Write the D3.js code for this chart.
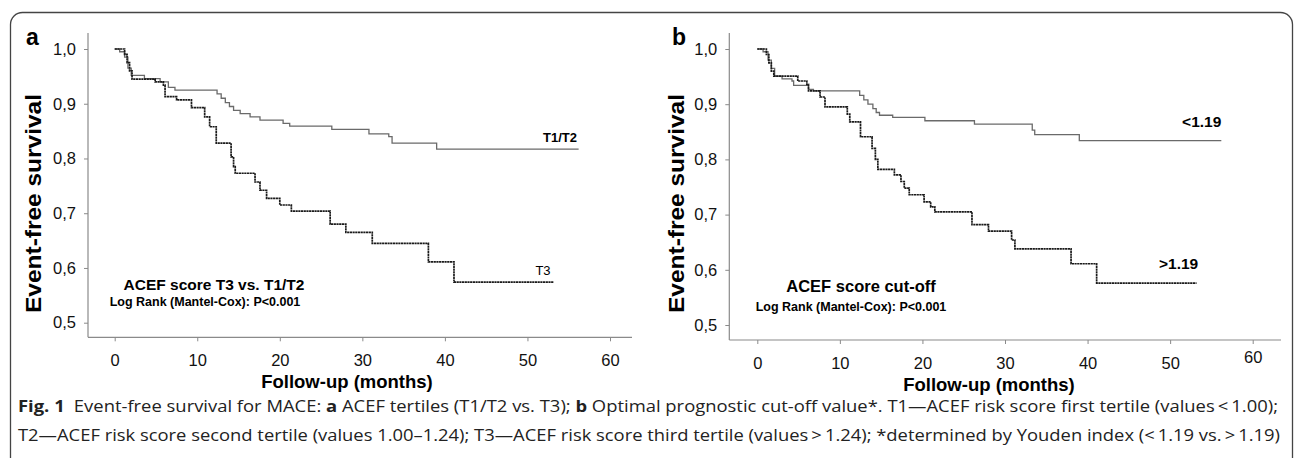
<!DOCTYPE html>
<html>
<head>
<meta charset="utf-8">
<script src="https://cdn.jsdelivr.net/npm/d3@7"></script>
<style>
  body { margin: 0; background: #fff; }
  text { font-family: "Liberation Sans", Arial, sans-serif; }
</style>
</head>
<body>
<script>
// panel a: ACEF tertiles
var aT12Time = [0, 0.6, 1.2, 1.6, 2.0, 3.6, 5.5, 6.5, 7.3, 12.4, 12.9, 13.4, 13.9, 14.4, 15.2, 16.4, 17.6, 20.4, 21.2, 26.3, 30.8, 33.2, 33.6, 39.0, 56.2];
var aT12Surv = [1.0, 0.995, 0.985, 0.965, 0.952, 0.946, 0.940, 0.930, 0.925, 0.918, 0.910, 0.902, 0.895, 0.888, 0.882, 0.876, 0.870, 0.864, 0.859, 0.853, 0.845, 0.840, 0.828, 0.817, 0.817];
var aT3Time = [0, 1.2, 1.5, 1.8, 2.1, 4.9, 5.9, 6.1, 7.5, 9.3, 10.9, 11.5, 12.3, 14.1, 14.4, 14.6, 17.0, 17.6, 18.4, 20.0, 21.4, 26.1, 28.0, 31.2, 38.0, 41.1, 53.2];
var aT3Surv = [1.0, 0.99, 0.975, 0.96, 0.945, 0.940, 0.934, 0.913, 0.907, 0.893, 0.876, 0.858, 0.828, 0.803, 0.785, 0.773, 0.757, 0.742, 0.727, 0.715, 0.704, 0.680, 0.665, 0.645, 0.611, 0.574, 0.574];

// panel b: cut-off 1.19
var bLowTime = [0, 0.7, 1.3, 1.7, 2.1, 3.0, 4.2, 4.4, 6.2, 6.8, 12.4, 12.9, 13.4, 14.0, 14.4, 14.8, 16.4, 20.3, 26.3, 33.3, 33.6, 39.0, 56.2];
var bLowSurv = [1.0, 0.995, 0.98, 0.965, 0.951, 0.946, 0.942, 0.934, 0.927, 0.924, 0.916, 0.908, 0.900, 0.892, 0.885, 0.880, 0.876, 0.870, 0.864, 0.853, 0.845, 0.834, 0.834];
var bHighTime = [0, 1.1, 1.4, 1.7, 2.0, 4.9, 6.0, 6.2, 7.6, 8.2, 10.9, 11.2, 12.5, 13.9, 14.3, 14.6, 16.6, 17.4, 17.8, 18.4, 20.2, 21.0, 21.5, 26.0, 28.0, 30.8, 31.2, 38.0, 41.1, 53.2];
var bHighSurv = [1.0, 0.99, 0.975, 0.96, 0.951, 0.942, 0.936, 0.924, 0.913, 0.895, 0.882, 0.868, 0.841, 0.820, 0.800, 0.782, 0.772, 0.760, 0.748, 0.736, 0.723, 0.714, 0.705, 0.682, 0.670, 0.654, 0.638, 0.611, 0.576, 0.576];

var xTicks = [0, 10, 20, 30, 40, 50, 60];
var yTicks = [0.5, 0.6, 0.7, 0.8, 0.9, 1.0];

var svg = d3.select("body").append("svg")
  .attr("width", 1295)
  .attr("height", 458);

// outer frame with rounded top
svg.append("rect")
  .attr("x", 10.5).attr("y", 12.5)
  .attr("width", 1282).attr("height", 480)
  .attr("rx", 12)
  .attr("fill", "none")
  .attr("stroke", "#444")
  .attr("stroke-width", 1.3);

function drawPanel(p) {
  var x = d3.scaleLinear().domain([0, 60]).range([p.x0, p.x60]);
  var y = d3.scaleLinear().domain([0.5, 1.0]).range([p.y05, p.y10]);
  var g = svg.append("g");

  // axis lines
  g.append("line")
    .attr("x1", p.axisX).attr("x2", p.axisX)
    .attr("y1", p.axisTop).attr("y2", p.axisY)
    .attr("stroke", "#8a8a8a").attr("stroke-width", 1.2);
  g.append("line")
    .attr("x1", p.axisX).attr("x2", p.axisRight)
    .attr("y1", p.axisY).attr("y2", p.axisY)
    .attr("stroke", "#8a8a8a").attr("stroke-width", 1.2);

  var xAxis = g.append("g")
    .attr("transform", `translate(0, ${p.axisY})`)
    .call(d3.axisBottom(x).tickValues(xTicks).tickSize(4).tickSizeOuter(0).tickPadding(13));
  var yAxis = g.append("g")
    .attr("transform", `translate(${p.axisX}, 0)`)
    .call(d3.axisLeft(y).tickValues(yTicks).tickSize(4).tickSizeOuter(0).tickPadding(8)
      .tickFormat(d => d3.format(".1f")(d).replace(".", ",")));

  [xAxis, yAxis].forEach(function (ax) {
    ax.select(".domain").remove();
    ax.selectAll(".tick line").attr("stroke", "#8a8a8a");
    ax.selectAll(".tick text")
      .attr("fill", "#111")
      .style("font-size", "16.5px")
      .style("font-family", "'Liberation Sans', Arial, sans-serif");
  });
  if (p.raise60) {
    xAxis.selectAll(".tick").filter(d => d === 60).select("text").attr("y", 11);
  }

  // survival curves
  var line = d3.line()
    .x(d => x(d[0]))
    .y(d => y(d[1]))
    .curve(d3.curveStepAfter);

  g.append("path")
    .datum(d3.zip(p.greyTime, p.greySurv))
    .attr("d", line)
    .attr("fill", "none")
    .attr("stroke", "#6a6a6a")
    .attr("stroke-width", 1.3);

  g.append("path")
    .datum(d3.zip(p.blackTime, p.blackSurv))
    .attr("d", line)
    .attr("fill", "none")
    .attr("stroke", "#1a1a1a")
    .attr("stroke-width", 1.7)
    .attr("stroke-dasharray", "2.2,0.5");

  // labels
  g.append("text")
    .attr("x", p.letterX).attr("y", 45)
    .attr("font-size", 23).attr("font-weight", "bold")
    .text(p.letter);

  g.append("text")
    .attr("transform", `translate(${p.ylabX}, 203.5) rotate(-90)`)
    .attr("text-anchor", "middle")
    .attr("font-size", 22).attr("font-weight", "bold")
    .attr("textLength", 219).attr("lengthAdjust", "spacingAndGlyphs")
    .text("Event-free survival");

  g.append("text")
    .attr("x", p.xlabX).attr("y", p.axisY + 51)
    .attr("text-anchor", "middle")
    .attr("font-size", 18.5).attr("font-weight", "bold")
    .text("Follow-up (months)");

  g.append("text")
    .attr("x", p.titleX).attr("y", p.titleY)
    .attr("text-anchor", "middle")
    .attr("font-size", p.titleFont).attr("font-weight", "bold")
    .text(p.title);

  g.append("text")
    .attr("x", p.logX).attr("y", p.titleY + p.logGap)
    .attr("text-anchor", "middle")
    .attr("font-size", 12.5).attr("font-weight", "bold")
    .text("Log Rank (Mantel-Cox): P<0.001");

  g.append("text")
    .attr("x", x(p.greyLabelT)).attr("y", y(p.greyLabelS))
    .attr("text-anchor", "end")
    .attr("font-size", p.curveFont).attr("font-weight", "bold")
    .text(p.greyLabel);

  g.append("text")
    .attr("x", x(p.blackLabelT)).attr("y", y(p.blackLabelS))
    .attr("text-anchor", "end")
    .attr("font-size", p.curveFont).attr("font-weight", p.blackWeight)
    .text(p.blackLabel);
}

drawPanel({
  x0: 114.7, x60: 610, y05: 322.7, y10: 49,
  axisX: 88, axisY: 337.3, axisTop: 33, axisRight: 632,
  letter: "a", letterX: 26, ylabX: 41, xlabX: 347,
  title: "ACEF score T3 vs. T1/T2", titleX: 214, titleY: 290, titleFont: 15.5,
  logX: 205, logGap: 16,
  greyTime: aT12Time, greySurv: aT12Surv,
  blackTime: aT3Time, blackSurv: aT3Surv,
  greyLabel: "T1/T2", greyLabelT: 56.0, greyLabelS: 0.83,
  blackLabel: "T3", blackLabelT: 52.8, blackLabelS: 0.588,
  curveFont: 13, blackWeight: "normal", raise60: false
});

drawPanel({
  x0: 757.3, x60: 1252.7, y05: 325, y10: 49,
  axisX: 729.3, axisY: 340, axisTop: 33, axisRight: 1281,
  letter: "b", letterX: 672, ylabX: 684, xlabX: 989,
  title: "ACEF score cut-off", titleX: 861, titleY: 292, titleFont: 16.5,
  logX: 851, logGap: 18.5,
  greyTime: bLowTime, greySurv: bLowSurv,
  blackTime: bHighTime, blackSurv: bHighSurv,
  greyLabel: "<1.19", greyLabelT: 56.2, greyLabelS: 0.858,
  blackLabel: ">1.19", blackLabelT: 53.4, blackLabelS: 0.601,
  curveFont: 15.5, blackWeight: "bold", raise60: true
});

// caption
var cap1 = svg.append("text")
  .attr("x", 18).attr("y", 412)
  .attr("font-size", 15.5).attr("fill", "#222")
  .attr("textLength", 1260).attr("lengthAdjust", "spacingAndGlyphs")
  .style("font-family", "'Liberation Sans Narrow', 'Open Sans', sans-serif");
cap1.append("tspan").attr("font-weight", "bold").text("Fig. 1");
cap1.append("tspan").text("\u2002Event-free survival for MACE: ");
cap1.append("tspan").attr("font-weight", "bold").text("a");
cap1.append("tspan").text(" ACEF tertiles (T1/T2 vs. T3); ");
cap1.append("tspan").attr("font-weight", "bold").text("b");
cap1.append("tspan").text(" Optimal prognostic cut-off value*. T1\u2014ACEF risk score first tertile (values\u2009<\u20091.00);");

svg.append("text")
  .attr("x", 18).attr("y", 441)
  .attr("font-size", 15.5).attr("fill", "#222")
  .attr("textLength", 1262).attr("lengthAdjust", "spacingAndGlyphs")
  .style("font-family", "'Liberation Sans Narrow', 'Open Sans', sans-serif")
  .text("T2\u2014ACEF risk score second tertile (values 1.00\u20131.24); T3\u2014ACEF risk score third tertile (values\u2009>\u20091.24); *determined by Youden index (<\u20091.19 vs.\u2009>\u20091.19)");
</script>
</body>
</html>
